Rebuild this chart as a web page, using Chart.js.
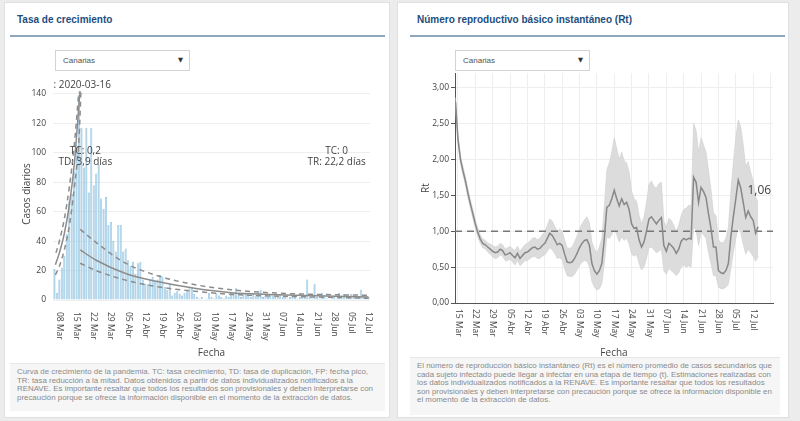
<!DOCTYPE html>
<html lang="es">
<head>
<meta charset="utf-8">
<title>Tasa de crecimiento y Rt - Canarias</title>
<script src="https://cdn.jsdelivr.net/npm/chart.js@4.4.1/dist/chart.umd.min.js"></script>
<style>
  html, body { margin: 0; padding: 0; }
  body { width: 800px; height: 421px; background: #ececec; position: relative; overflow: hidden;
         font-family: "Liberation Sans", Arial, sans-serif; }
  .panel { position: absolute; top: 2px; height: 414px; background: #fff; border: 1px solid #e0e0e0; }
  .titulo { position: absolute; top: 11px; font-weight: bold; font-size: 10px; color: #1d4e7e; white-space: nowrap; }
  .linea { position: absolute; top: 32px; width: 375px; height: 2px; background: #8ea7bd; }
  .selector { position: absolute; top: 47px; width: 135px; height: 21px; border: 1px solid #d3d3d3;
              background: #fff; box-sizing: border-box; z-index: 2; font-size: 8px; color: #555; }
  .selector span { position: absolute; left: 7px; top: 5px; }
  .selector b { position: absolute; right: 6px; top: 5px; font-family: "DejaVu Sans", sans-serif; font-size: 6.5px; color: #333; font-weight: normal; }
  .grafico { position: absolute; top: 63px; height: 297px; }
  .nota { position: absolute; background: #f6f6f6; border-top: 1px solid #e6e6e6; box-sizing: border-box;
          padding: 4px 7px; font-size: 7.9px; line-height: 8.6px; color: #8a8a8a; white-space: nowrap; }
</style>
</head>
<body>

<div class="panel" style="left:4px; width:384px;">
  <div class="titulo" style="left:12px;">Tasa de crecimiento</div>
  <div class="linea" style="left:5px;"></div>
  <div class="selector" style="left:50px;"><span>Canarias</span><b>▼</b></div>
  <div class="grafico" style="left:3px; width:380px;"><canvas id="graficoCrecimiento"></canvas></div>
  <div class="nota" style="left:5px; top:360px; width:375px; height:48px;">
    Curva de crecimiento de la pandemia. TC: tasa crecimiento, TD: tasa de duplicación, FP: fecha pico,<br>
    TR: tasa reducción a la mitad. Datos obtenidos a partir de datos individualizados notificados a la<br>
    RENAVE. Es importante resaltar que todos los resultados son provisionales y deben interpretarse con<br>
    precaución porque se ofrece la información disponible en el momento de la extracción de datos.
  </div>
</div>

<div class="panel" style="left:397px; width:390px;">
  <div class="titulo" style="left:19px;">Número reproductivo básico instantáneo (Rt)</div>
  <div class="linea" style="left:12px;"></div>
  <div class="selector" style="left:57px;"><span>Canarias</span><b>▼</b></div>
  <div class="grafico" style="left:4px; width:388px;"><canvas id="graficoRt"></canvas></div>
  <div class="nota" style="left:12px; top:354px; width:370px; height:58px;">
    El número de reproducción básico instantáneo (Rt) es el número promedio de casos secundarios que<br>
    cada sujeto infectado puede llegar a infectar en una etapa de tiempo (t). Estimaciones realizadas con<br>
    los datos individualizados notificados a la RENAVE. Es importante resaltar que todos los resultados<br>
    son provisionales y deben interpretarse con precaución porque se ofrece la información disponible en<br>
    el momento de la extracción de datos.
  </div>
</div>

<script>
// Días contados desde el 08 Mar 2020 (día 0)

// Marcas semanales del eje de fechas
const semanasDia = [0, 7, 14, 21, 28, 35, 42, 49, 56, 63, 70, 77, 84, 91, 98, 105, 112, 119, 126];
const semanasTexto = ['08 Mar', '15 Mar', '22 Mar', '29 Mar', '05 Abr', '12 Abr', '19 Abr', '26 Abr',
    '03 May', '10 May', '17 May', '24 May', '31 May', '07 Jun', '14 Jun', '21 Jun', '28 Jun', '05 Jul', '12 Jul'];

// Casos diarios, desde el 06 Mar
const diaInicioCasos = -2;
const casosDiarios = [
    21, 5, 14, 22, 30, 45, 67, 72, 87, 100,
    139, 117, 90, 117, 73, 117, 78, 86, 92, 69,
    62, 70, 51, 53, 40, 33, 51, 51, 33, 35,
    27, 23, 26, 18, 25, 26, 14, 11, 11, 14,
    16, 13, 14, 17, 16, 9, 7, 11, 3, 5,
    6, 4, 3, 5, 6, 8, 9, 4, 2, 1,
    2, 0, 1, 5, 2, 1, 5, 3, 2, 1,
    3, 2, 5, 4, 8, 3, 2, 5, 4, 3,
    2, 4, 3, 5, 7, 2, 3, 2, 4, 3,
    2, 3, 4, 2, 3, 1, 2, 3, 2, 1,
    2, 3, 2, 14, 2, 1, 11, 2, 1, 5,
    2, 1, 0, 1, 2, 1, 5, 2, 4, 1,
    2, 4, 2, 1, 2, 7, 2, 3, 2
];

// Ajustes de la curva: [día, casos]
const crecimientoAjuste = [[-1.6, 24], [0, 32], [2, 45], [4, 64], [6, 91], [8.4, 142]];
const crecimientoSup = [[-1.4, 32], [0, 40], [2, 55], [4, 76], [6, 104], [7.9, 141]];
const crecimientoInf = [[-1.6, 17], [0, 23], [2, 34], [4, 50], [6, 75], [8, 110], [8.8, 142]];
const descensoAjuste = [[8.5, 34], [15, 27], [27, 18], [40, 12.5], [55, 8], [70, 5], [85, 3.8], [100, 3], [126, 2]];
const descensoSup = [[8.5, 48], [15, 39], [27, 25], [40, 16.5], [55, 10.5], [70, 7], [85, 5], [100, 4], [126, 3.2]];
const descensoInf = [[8.5, 25], [15, 20], [27, 13.5], [40, 9], [55, 6], [70, 3.8], [85, 2.8], [100, 2.2], [126, 1.2]];

const textosCrecimiento = [
    { texto: ': 2020-03-16', dia: -2.4, valor: 146, alinear: 'left' },
    { texto: 'TC: 0,2', dia: 10.6, valor: 101 },
    { texto: 'TD: 3,9 días', dia: 10.6, valor: 93.5 },
    { texto: 'TC: 0', dia: 113, valor: 101 },
    { texto: 'TR: 22,2 días', dia: 113, valor: 93.5 }
];

// Rt diario, desde el 14 Mar
const diaInicioRt = 6;
const rtValor = [
    2.80, 2.28, 2.00, 1.84, 1.70, 1.53, 1.38, 1.24, 1.10, 0.98,
    0.89, 0.83, 0.81, 0.78, 0.75, 0.72, 0.70, 0.71, 0.75, 0.73,
    0.67, 0.68, 0.70, 0.66, 0.63, 0.69, 0.62, 0.66, 0.70, 0.71,
    0.74, 0.77, 0.78, 0.75, 0.76, 0.80, 0.83, 0.90, 0.97, 0.94,
    0.88, 0.81, 0.83, 0.80, 0.68, 0.57, 0.56, 0.57, 0.62, 0.69,
    0.77, 0.83, 0.87, 0.88, 0.80, 0.55, 0.45, 0.40, 0.45, 0.55,
    0.90, 1.33, 1.36, 1.45, 1.57, 1.45, 1.35, 1.45, 1.37, 1.40,
    1.30, 1.10, 1.04, 1.05, 0.88, 0.78, 0.85, 1.00, 1.17, 1.20,
    1.15, 1.10, 1.15, 1.19, 0.80, 0.72, 0.83, 0.80, 0.76, 0.69,
    0.75, 0.86, 0.90, 0.88, 0.90, 0.89, 1.75, 1.68, 1.40, 1.61,
    1.55, 1.47, 1.24, 1.04, 0.78, 0.78, 0.45, 0.42, 0.41, 0.45,
    0.55, 0.92, 1.20, 1.45, 1.71, 1.60, 1.40, 1.19, 1.28, 1.20,
    1.15, 0.97, 1.06
];
const rtSuperior = [
    2.86, 2.34, 2.06, 1.90, 1.76, 1.59, 1.44, 1.30, 1.16, 1.04,
    0.95, 0.89, 0.87, 0.84, 0.82, 0.80, 0.78, 0.79, 0.83, 0.81,
    0.75, 0.77, 0.79, 0.75, 0.73, 0.79, 0.72, 0.77, 0.81, 0.83,
    0.86, 0.90, 0.91, 0.88, 0.90, 0.95, 0.99, 1.08, 1.17, 1.14,
    1.07, 1.00, 1.03, 1.00, 0.88, 0.77, 0.76, 0.78, 0.85, 0.93,
    1.03, 1.10, 1.16, 1.20, 1.12, 0.85, 0.75, 0.70, 0.78, 0.90,
    1.35, 1.85, 1.95, 2.10, 2.30, 2.15, 2.00, 2.10, 1.98, 1.95,
    1.82, 1.55, 1.45, 1.42, 1.22, 1.10, 1.20, 1.40, 1.65, 1.70,
    1.62, 1.60, 1.66, 1.68, 1.15, 1.05, 1.18, 1.15, 1.08, 1.00,
    1.08, 1.22, 1.30, 1.32, 1.36, 1.35, 2.50, 2.40, 2.10, 2.30,
    2.20, 2.10, 1.85, 1.58, 1.25, 1.22, 0.88, 0.84, 0.84, 0.90,
    1.05, 1.55, 1.95, 2.30, 2.55, 2.45, 2.20, 1.90, 1.97, 1.82,
    1.70, 1.48, 1.40
];
const rtInferior = [
    2.74, 2.22, 1.94, 1.78, 1.64, 1.47, 1.32, 1.18, 1.04, 0.92,
    0.83, 0.77, 0.75, 0.71, 0.68, 0.64, 0.62, 0.63, 0.67, 0.65,
    0.59, 0.59, 0.61, 0.57, 0.53, 0.59, 0.52, 0.55, 0.59, 0.59,
    0.62, 0.64, 0.65, 0.62, 0.62, 0.65, 0.67, 0.72, 0.77, 0.74,
    0.69, 0.62, 0.63, 0.60, 0.48, 0.38, 0.37, 0.37, 0.40, 0.46,
    0.52, 0.57, 0.59, 0.58, 0.50, 0.30, 0.22, 0.18, 0.20, 0.27,
    0.55, 0.92, 0.90, 0.95, 1.05, 0.95, 0.85, 0.92, 0.87, 0.90,
    0.82, 0.68, 0.65, 0.68, 0.55, 0.46, 0.50, 0.62, 0.77, 0.78,
    0.74, 0.70, 0.72, 0.75, 0.45, 0.40, 0.48, 0.45, 0.42, 0.38,
    0.42, 0.50, 0.53, 0.50, 0.52, 0.50, 1.05, 1.02, 0.80, 0.98,
    0.95, 0.90, 0.70, 0.55, 0.38, 0.38, 0.22, 0.20, 0.20, 0.22,
    0.26, 0.48, 0.70, 0.90, 1.05, 0.98, 0.82, 0.68, 0.75, 0.70,
    0.65, 0.58, 0.65
];
const umbralRt = 1;

// Rango de los ejes de fecha
const xMinCasos = -2.6, xMaxCasos = 126.6;
const xMinRt = 5.8, xMaxRt = 134;

const fuente = "'Open Sans', sans-serif";
const gris = '#444';
Chart.defaults.font.family = fuente;
Chart.defaults.color = gris;
Chart.defaults.animation = false;

function puntos(pares) {
    return pares.map(p => ({ x: p[0], y: p[1] }));
}
function serie(inicio, valores) {
    return valores.map((v, i) => ({ x: inicio + i, y: v }));
}
function formatoComa(v) {
    return v.toFixed(2).replace('.', ',');
}

// Etiquetas de fecha giradas 90 grados (se leen de arriba abajo)
function pluginFechas(separacion) {
    return {
        id: 'etiquetasFecha',
        afterDraw(chart) {
            const { ctx, chartArea, scales: { x } } = chart;
            ctx.save();
            ctx.fillStyle = gris;
            ctx.font = '8.5px ' + fuente;
            ctx.textAlign = 'left';
            ctx.textBaseline = 'middle';
            semanasDia.forEach((dia, i) => {
                if (dia < x.min || dia > x.max) return;
                ctx.save();
                ctx.translate(x.getPixelForValue(dia), chartArea.bottom + separacion);
                ctx.rotate(Math.PI / 2);
                ctx.fillText(semanasTexto[i], 0, 0);
                ctx.restore();
            });
            ctx.restore();
        }
    };
}

function pluginTextos(textos, tam) {
    return {
        id: 'textos',
        afterDatasetsDraw(chart) {
            const { ctx, scales: { x, y } } = chart;
            ctx.save();
            ctx.fillStyle = gris;
            ctx.font = tam + 'px ' + fuente;
            ctx.textBaseline = 'middle';
            textos.forEach(a => {
                ctx.textAlign = a.alinear || 'center';
                ctx.fillText(a.texto, x.getPixelForValue(a.dia), y.getPixelForValue(a.valor));
            });
            ctx.restore();
        }
    };
}

function linea(datos, discontinua) {
    return {
        type: 'line',
        data: puntos(datos),
        borderColor: '#8c8c8c',
        borderWidth: 1.5,
        borderDash: discontinua ? [5, 4] : [],
        pointRadius: 0,
        cubicInterpolationMode: 'monotone',
        clip: false,
        order: 1
    };
}

// Tasa de crecimiento
new Chart(document.getElementById('graficoCrecimiento'), {
    type: 'bar',
    data: {
        datasets: [
            linea(crecimientoAjuste, false),
            linea(crecimientoSup, true),
            linea(crecimientoInf, true),
            linea(descensoAjuste, false),
            linea(descensoSup, true),
            linea(descensoInf, true),
            {
                type: 'bar',
                data: serie(diaInicioCasos, casosDiarios),
                backgroundColor: '#a9d1e8',
                borderColor: '#86bcdc',
                borderWidth: 0.6,
                barPercentage: 0.85,
                categoryPercentage: 1,
                order: 2
            }
        ]
    },
    options: {
        responsive: true,
        maintainAspectRatio: false,
        layout: { padding: { left: 9, right: 18, top: 22, bottom: 0 } },
        plugins: { legend: { display: false }, tooltip: { enabled: false } },
        scales: {
            x: {
                type: 'linear',
                min: xMinCasos,
                max: xMaxCasos,
                offset: false,
                grid: { display: false },
                border: { display: false },
                ticks: { display: false },
                afterBuildTicks(s) { s.ticks = semanasDia.map(v => ({ value: v })); },
                title: { display: true, text: 'Fecha', color: gris, font: { size: 10 }, padding: { top: 4, bottom: 4 } },
                afterFit(s) { s.height = 63; }
            },
            y: {
                min: 0,
                max: 144,
                ticks: { stepSize: 20, includeBounds: false, color: gris, font: { size: 8.5 }, padding: 7 },
                grid: { color: '#eeeeee', drawTicks: false },
                border: { display: false },
                title: { display: true, text: 'Casos diarios', color: gris, font: { size: 10 }, padding: { top: 4, bottom: 4 } },
                afterFit(s) { s.width = 36; }
            }
        }
    },
    plugins: [pluginFechas(12), pluginTextos(textosCrecimiento, 10)]
});

// Número reproductivo instantáneo
const textosRt = [
    { texto: formatoComa(rtValor[rtValor.length - 1]), dia: 128.5, valor: 1.57 }
];

new Chart(document.getElementById('graficoRt'), {
    type: 'line',
    data: {
        datasets: [
            {
                data: serie(diaInicioRt, rtSuperior),
                borderColor: '#cfcfcf',
                borderWidth: 0.6,
                backgroundColor: '#dcdcdc',
                fill: '+1',
                pointRadius: 0,
                order: 3
            },
            {
                data: serie(diaInicioRt, rtInferior),
                borderColor: '#cfcfcf',
                borderWidth: 0.6,
                fill: false,
                pointRadius: 0,
                order: 2
            },
            {
                data: [{ x: xMinRt, y: umbralRt }, { x: xMaxRt, y: umbralRt }],
                borderColor: '#777',
                borderWidth: 1.5,
                borderDash: [7, 5],
                pointRadius: 0,
                order: 1
            },
            {
                data: serie(diaInicioRt, rtValor),
                borderColor: '#888',
                borderWidth: 1.5,
                pointRadius: 0,
                order: 0
            }
        ]
    },
    options: {
        responsive: true,
        maintainAspectRatio: false,
        layout: { padding: { left: 14, right: 17, top: 6, bottom: 0 } },
        plugins: { legend: { display: false }, tooltip: { enabled: false } },
        scales: {
            x: {
                type: 'linear',
                min: xMinRt,
                max: xMaxRt,
                grid: { color: '#eeeeee', drawTicks: false },
                border: { display: true, color: '#555' },
                ticks: { display: false },
                afterBuildTicks(s) {
                    const t = [];
                    for (let v = 7; v <= xMaxRt; v += 7) t.push({ value: v });
                    s.ticks = t;
                },
                title: { display: true, text: 'Fecha', color: gris, font: { size: 10 }, padding: { top: 4, bottom: 4 } },
                afterFit(s) { s.height = 60; }
            },
            y: {
                min: 0,
                max: 3.2,
                ticks: { stepSize: 0.5, includeBounds: false, color: gris, font: { size: 8.5 }, padding: 2,
                         callback: v => formatoComa(v) },
                grid: { color: '#eeeeee', tickColor: '#555', tickLength: 4 },
                border: { display: true, color: '#555' },
                title: { display: true, text: 'Rt', color: gris, font: { size: 10 }, padding: { top: 4, bottom: 4 } },
                afterFit(s) { s.width = 39; }
            }
        }
    },
    plugins: [pluginFechas(6), pluginTextos(textosRt, 12)]
});
</script>
</body>
</html>
